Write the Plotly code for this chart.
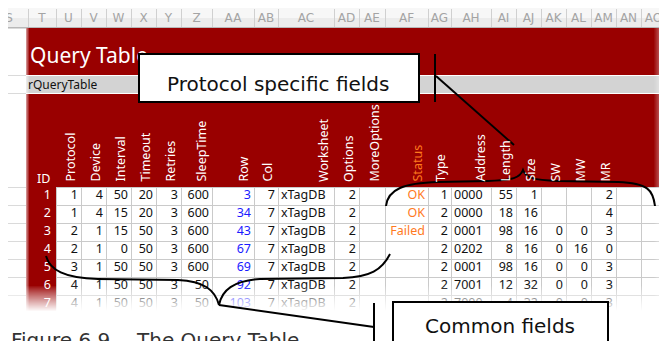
import plotly.graph_objects as go

# ---------------- data ----------------
col_letters = ["S", "T", "U", "V", "W", "X", "Y", "Z", "AA", "AB", "AC", "AD", "AE", "AF",
               "AG", "AH", "AI", "AJ", "AK", "AL", "AM", "AN", "AO", "AP"]
headers = ["ID", "Protocol", "Device", "Interval", "Timeout", "Retries", "SleepTime", "Row",
           "Col", "Worksheet", "Options", "MoreOptions", "Status", "Type", "Address",
           "Length", "Size", "SW", "MW", "MR"]

ids = [1, 2, 3, 4, 5, 6, 7]
protocol = [1, 1, 2, 2, 3, 4, 4]
device = [4, 4, 1, 1, 1, 1, 1]
interval = [50, 15, 15, 0, 50, 50, 50]
timeout = [20, 20, 50, 50, 50, 50, 50]
retries = [3, 3, 3, 3, 3, 3, 3]
sleeptime = [600, 600, 600, 600, 600, 50, 50]
row_no = [3, 34, 43, 67, 69, 92, 103]
col_no = [7, 7, 7, 7, 7, 7, 7]
worksheet = ["xTagDB"] * 7
options = [2, 2, 2, 2, 2, 2, 2]
moreoptions = [""] * 7
status = ["OK", "OK", "Failed", "", "", "", ""]
type_ = [1, 2, 2, 2, 2, 2, 2]
address = ["0000", "0000", "0001", "0202", "0001", "7001", "7000"]
length = [55, 18, 98, 8, 98, 12, 4]
size = [1, 16, 16, 16, 16, 32, 32]
sw = ["", "", 0, 0, 0, 0, 0]
mw = ["", "", 0, 16, 0, 0, 0]
mr = [2, 4, 3, 0, 3, 3, 3]

title_text = "Query Table"
range_name = "rQueryTable"
callout_top = "Protocol specific fields"
callout_bottom = "Common fields"
caption_num = "Figure 6.9"
caption_txt = "The Query Table"

# ---------------- layout constants ----------------
W, H = 667, 341
EDGES = [20, 48, 73, 98, 123, 148, 173, 204, 246, 270, 326, 351, 377, 420, 443, 483,
         508, 533, 558, 583, 608, 633, 658]
LETTER_EDGES = [-18] + EDGES + [686]
ROW_TOP, ROW_H = 179, 18
RED = "#990000"
GRID = "#cacaca"
BLUE = "#1a1aff"
ORANGE = "#ff7a1e"
CELL_FONT = "Noto Sans"
CELL_SIZE = 12.5

columns = [ids, protocol, device, interval, timeout, retries, sleeptime, row_no, col_no,
           worksheet, options, moreoptions, status, type_, address, length, size, sw, mw, mr]
left_aligned = {9, 14}
col_colors = {0: "white", 7: BLUE, 12: ORANGE}
col_pad = {0: 5}

shapes = []


def rect(x0, y0, x1, y1, fill, layer="below", opacity=1.0, lw=0, lc="black"):
    shapes.append(dict(type="rect", xref="x", yref="y", x0=x0, y0=y0, x1=x1, y1=y1,
                       fillcolor=fill, opacity=opacity, layer=layer,
                       line=dict(width=lw, color=lc)))


def seg(x0, y0, x1, y1, color, width=1, layer="below"):
    shapes.append(dict(type="line", xref="x", yref="y", x0=x0, y0=y0, x1=x1, y1=y1,
                       layer=layer, line=dict(color=color, width=width)))


def path(d, color="black", width=2, layer="above"):
    shapes.append(dict(type="path", xref="x", yref="y", path=d, layer=layer,
                       line=dict(color=color, width=width)))


# excel column letter bar
rect(0, 0, W, 10, "#f7f7f7")
rect(0, 10, W, 19, "#ececec")
seg(0, 19.5, W, 19.5, "#b8b8b8")
for e in EDGES:
    seg(e + 0.5, 1, e + 0.5, 19, "#d0d0d0")

# left column (S) grid lines
for y in [20, 67, 85, 179, 197, 215, 233, 251, 269, 287, 305]:
    seg(0, y + 0.5, 18, y + 0.5, "#dadada")

# red title area, range name bar, header area
rect(18, 20, 655, 67, RED)
rect(18, 68, 655, 85, "#d3d3d3")
rect(18, 86, 655, 179, RED)
# ID column
rect(18, 179, 48, 320, RED)
# soft left edge
for i, op in enumerate([0.55, 0.35, 0.18]):
    rect(18 + i, 20, 19 + i, 320, "white", opacity=op)

# data grid
for r in range(9):
    y = ROW_TOP + ROW_H * r + 0.5
    seg(48, y, 665, y, GRID)
for e in EDGES[1:]:
    seg(e + 0.5, ROW_TOP, e + 0.5, 320, GRID)

fig = go.Figure()

# cell values
n_rows = len(ids)
ys = [ROW_TOP + ROW_H * (i + 0.5) for i in range(n_rows)]
for j, values in enumerate(columns):
    pad = col_pad.get(j, 3)
    if j in left_aligned:
        x = EDGES[j] + pad
        pos = "middle right"
    else:
        x = EDGES[j + 1] - pad
        pos = "middle left"
    fig.add_trace(go.Scatter(
        x=[x] * n_rows, y=ys, mode="text", text=[str(v) for v in values],
        textposition=pos, hoverinfo="skip", showlegend=False,
        textfont=dict(family=CELL_FONT, size=CELL_SIZE, color=col_colors.get(j, "#111111"))))

# title and range-name bar text
fig.add_trace(go.Scatter(x=[22], y=[50], mode="text", text=[title_text],
                         textposition="middle right", hoverinfo="skip", showlegend=False,
                         textfont=dict(family="Noto Sans", size=21, color="white")))
fig.add_trace(go.Scatter(x=[20], y=[77.5], mode="text", text=[range_name],
                         textposition="middle right", hoverinfo="skip", showlegend=False,
                         textfont=dict(family=CELL_FONT, size=12, color="#111111")))

# excel column letters
letter_x = [(LETTER_EDGES[k] + LETTER_EDGES[k + 1]) / 2 for k in range(len(col_letters))]
letter_x[0] = 1
fig.add_trace(go.Scatter(x=letter_x, y=[11] * len(col_letters), mode="text", text=col_letters,
                         textposition="middle center", hoverinfo="skip", showlegend=False,
                         textfont=dict(family="DejaVu Sans", size=12, color="#a4a4a4")))

# fades (above traces)
for i in range(18):
    rect(646 + i, 20, 647 + i, H, "white", layer="above", opacity=min(1.0, (i + 1) / 18))
rect(664, 20, W, H, "white", layer="above")
for i in range(26):
    rect(0, 278 + i, W, 279 + i, "white", layer="above", opacity=min(1.0, ((i + 1) / 26) ** 0.85))
rect(0, 304, W, H, "white", layer="above")

# callouts
rect(131, 46, 411, 94, "white", layer="above", lw=2, lc="black")
seg(427, 46, 427, 94, "black", 2, layer="above")
seg(428, 68, 506, 137, "black", 2, layer="above")
path("M 378,198 C 380,181 396,175 430,174 L 480,173 C 505,172 512,170 515,162 "
     "C 518,170 525,172 550,173 L 610,174 C 640,175 645,182 647,198")
path("M 38,248 C 42,262 56,270 90,271 L 170,272 C 196,273 207,282 211,297 "
     "C 214,282 225,273 252,271 L 335,270 C 362,269 374,262 382,246")
seg(211, 297, 366, 319, "black", 2, layer="above")
seg(366, 295, 366, H + 2, "black", 2, layer="above")
rect(385, 294, 600, H + 10, "white", layer="above", lw=2, lc="black")

annotations = []
# rotated headers
for j, h in enumerate(headers):
    if j == 0:
        annotations.append(dict(x=35, y=170, xref="x", yref="y", text=h, showarrow=False,
                                xanchor="center", yanchor="middle",
                                font=dict(family=CELL_FONT, size=CELL_SIZE, color="white")))
        continue
    annotations.append(dict(x=EDGES[j + 1] - 11, y=176, xref="x", yref="y", text=h,
                            showarrow=False, textangle=-90, xanchor="center", yanchor="bottom",
                            font=dict(family=CELL_FONT, size=CELL_SIZE,
                                      color=ORANGE if h == "Status" else "white")))

annotations.append(dict(x=270, y=76, xref="x", yref="y", text=callout_top, showarrow=False,
                        xanchor="center", yanchor="middle",
                        font=dict(family="DejaVu Sans", size=20, color="#111111")))
annotations.append(dict(x=492, y=318, xref="x", yref="y", text=callout_bottom, showarrow=False,
                        xanchor="center", yanchor="middle",
                        font=dict(family="DejaVu Sans", size=20, color="#111111")))
annotations.append(dict(x=1, y=332, xref="x", yref="y", text=caption_num, showarrow=False,
                        xanchor="left", yanchor="middle",
                        font=dict(family="DejaVu Sans", size=20, color="#333333")))
annotations.append(dict(x=126, y=332, xref="x", yref="y", text=caption_txt, showarrow=False,
                        xanchor="left", yanchor="middle",
                        font=dict(family="DejaVu Sans", size=20, color="#333333")))

fig.update_layout(
    width=W, height=H, margin=dict(l=0, r=0, t=0, b=0),
    paper_bgcolor="white", plot_bgcolor="white",
    xaxis=dict(range=[0, W], visible=False, fixedrange=True),
    yaxis=dict(range=[H, 0], visible=False, fixedrange=True),
    shapes=shapes, annotations=annotations, showlegend=False,
)

fig.write_html("out.html", config={"displayModeBar": False})
